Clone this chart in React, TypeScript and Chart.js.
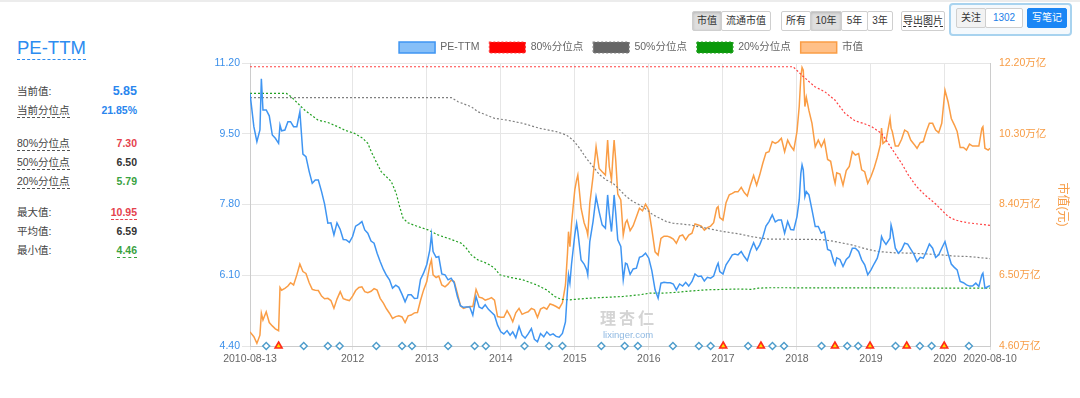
import React, { useEffect, useRef } from "react";
import { Chart, registerables } from "chart.js";

Chart.register(...registerables);

const FONT = "'Liberation Sans', 'Noto Sans CJK SC', Arial, sans-serif";

// ---------- data ----------
const dates = [
  "2010-08-13","2010-09-01","2010-09-16","2010-10-01","2010-10-08","2010-10-16","2010-11-01","2010-11-16","2010-12-01","2010-12-16",
  "2011-01-01","2011-01-08","2011-01-16","2011-02-01","2011-02-16","2011-03-01","2011-03-16","2011-04-01","2011-04-16","2011-05-01",
  "2011-05-16","2011-06-01","2011-06-16","2011-07-01","2011-07-16","2011-08-01","2011-08-16","2011-09-01","2011-09-16","2011-10-01",
  "2011-10-16","2011-11-01","2011-11-16","2011-12-01","2011-12-16","2012-01-01","2012-01-16","2012-02-01","2012-02-16","2012-03-01",
  "2012-03-16","2012-04-01","2012-04-16","2012-05-01","2012-05-16","2012-06-01","2012-06-16","2012-07-01","2012-07-16","2012-08-01",
  "2012-08-16","2012-09-01","2012-09-16","2012-10-01","2012-10-16","2012-11-01","2012-11-16","2012-12-01","2012-12-16","2013-01-01",
  "2013-01-16","2013-01-24","2013-02-01","2013-02-16","2013-03-01","2013-03-16","2013-04-01","2013-04-16","2013-05-01","2013-05-16",
  "2013-06-01","2013-06-16","2013-07-01","2013-07-16","2013-08-01","2013-08-16","2013-09-01","2013-09-16","2013-10-01","2013-10-16",
  "2013-11-01","2013-11-16","2013-12-01","2013-12-16","2014-01-01","2014-01-16","2014-02-01","2014-02-16","2014-03-01","2014-03-16",
  "2014-04-01","2014-04-16","2014-05-01","2014-05-16","2014-06-01","2014-06-16","2014-07-01","2014-07-16","2014-08-01","2014-08-16",
  "2014-09-01","2014-09-16","2014-10-01","2014-10-16","2014-11-01","2014-11-16","2014-11-26","2014-12-01","2014-12-08","2014-12-16",
  "2015-01-01","2015-01-10","2015-01-16","2015-02-01","2015-02-16","2015-03-01","2015-03-06","2015-03-16","2015-04-01","2015-04-16",
  "2015-05-01","2015-05-16","2015-06-01","2015-06-12","2015-06-20","2015-07-01","2015-07-08","2015-07-14","2015-07-22","2015-08-01",
  "2015-08-16","2015-08-28","2015-09-08","2015-09-16","2015-10-01","2015-10-16","2015-11-01","2015-11-16","2015-12-01","2015-12-16",
  "2016-01-01","2016-01-16","2016-02-01","2016-02-16","2016-03-01","2016-03-16","2016-04-01","2016-04-16","2016-05-01","2016-05-16",
  "2016-06-01","2016-06-16","2016-07-01","2016-07-16","2016-08-01","2016-08-16","2016-09-01","2016-09-16","2016-10-01","2016-10-16",
  "2016-11-01","2016-11-16","2016-12-01","2016-12-08","2016-12-16","2017-01-01","2017-01-16","2017-02-01","2017-02-16","2017-03-01",
  "2017-03-16","2017-04-01","2017-04-16","2017-05-01","2017-05-16","2017-06-01","2017-06-16","2017-07-01","2017-07-16","2017-08-01",
  "2017-08-16","2017-09-01","2017-09-16","2017-10-01","2017-10-16","2017-11-01","2017-11-16","2017-12-01","2017-12-16","2018-01-01",
  "2018-01-12","2018-01-20","2018-01-26","2018-02-01","2018-02-09","2018-02-16","2018-03-01","2018-03-16","2018-04-01","2018-04-16",
  "2018-05-01","2018-05-16","2018-06-01","2018-06-16","2018-07-01","2018-07-08","2018-07-16","2018-08-01","2018-08-16","2018-09-01",
  "2018-09-16","2018-10-01","2018-10-16","2018-11-01","2018-11-16","2018-12-01","2018-12-16","2019-01-01","2019-01-16","2019-02-01",
  "2019-02-16","2019-02-22","2019-03-01","2019-03-16","2019-04-05","2019-04-10","2019-04-16","2019-05-01","2019-05-16","2019-06-01",
  "2019-06-16","2019-07-01","2019-07-16","2019-08-01","2019-08-16","2019-09-01","2019-09-16","2019-10-01","2019-10-16","2019-11-01",
  "2019-11-16","2019-12-01","2019-12-16","2020-01-01","2020-01-16","2020-02-01","2020-02-16","2020-03-01","2020-03-16","2020-04-01",
  "2020-04-16","2020-05-01","2020-05-16","2020-06-01","2020-06-16","2020-07-01","2020-07-06","2020-07-16","2020-08-01","2020-08-10",
];

const peTTM = [
  10.47,9.67,9.31,9.59,10.82,10.07,10.07,9.93,9.47,9.39,
  9.27,9.71,9.57,9.59,9.79,9.79,9.67,9.67,10.03,9.01,
  8.95,8.59,8.31,8.39,8.39,8.11,7.81,7.35,7.36,7.07,
  7.36,7.20,6.96,6.95,6.89,7.03,7.28,7.33,7.39,7.19,
  7.11,6.92,6.87,6.63,6.43,6.24,6.10,5.99,5.79,5.86,
  5.81,5.64,5.46,5.63,5.63,5.54,5.55,6.00,6.15,6.36,
  6.71,7.07,6.67,6.53,6.55,6.13,6.11,5.99,6.03,5.92,
  5.59,5.37,5.33,5.34,5.34,5.14,5.59,5.34,5.30,5.39,
  5.28,5.21,5.14,4.90,4.74,4.69,4.77,4.66,4.74,4.60,
  4.87,4.66,4.59,4.69,4.82,4.56,4.50,4.70,4.62,4.74,
  4.66,4.69,4.63,4.61,4.70,4.98,5.75,6.11,5.91,6.37,
  7.07,7.35,7.15,6.47,6.37,6.23,6.11,6.91,7.39,7.99,
  7.63,7.31,7.23,8.03,7.59,7.15,7.59,8.03,7.59,6.95,
  6.79,5.99,6.39,6.37,6.12,6.25,6.27,6.53,6.56,6.63,
  6.51,6.21,5.75,5.55,5.91,5.93,5.92,5.92,5.89,5.75,
  5.89,5.84,5.93,5.84,5.95,6.13,6.07,6.08,5.96,6.05,
  6.03,6.08,6.31,6.39,6.19,6.13,6.35,6.47,6.59,6.61,
  6.59,6.67,6.55,6.45,6.69,6.88,6.71,6.83,7.01,7.28,
  7.39,7.55,7.38,7.43,7.43,7.11,7.39,7.20,7.19,7.51,
  7.91,8.55,8.75,8.63,7.99,8.11,8.03,7.67,7.27,7.27,
  7.11,7.15,6.72,6.69,6.43,6.35,6.52,6.48,6.31,6.48,
  6.55,6.75,6.75,6.67,6.47,6.35,6.11,6.23,6.37,6.51,
  6.79,7.03,6.95,6.84,6.99,7.31,7.19,6.75,6.63,6.71,
  6.87,6.85,6.73,6.60,6.43,6.53,6.51,6.67,6.85,6.75,
  6.53,6.59,6.75,6.91,6.63,6.37,6.29,6.23,5.95,5.92,
  5.87,5.84,5.84,5.91,5.83,6.11,6.15,5.79,5.83,5.85,
];

// 市值, 万亿元
const marketCap = [
  4.98,4.85,4.67,4.89,5.48,5.30,5.52,5.23,5.14,5.06,
  5.01,6.17,6.10,6.15,6.21,6.30,6.24,6.51,6.80,6.60,
  6.55,6.30,6.12,6.10,6.09,5.94,5.87,5.88,5.82,5.61,
  5.86,6.06,5.87,5.84,5.82,5.94,6.09,6.17,6.19,6.06,
  6.03,6.07,6.14,6.10,5.88,5.75,5.60,5.48,5.34,5.39,
  5.41,5.38,5.23,5.41,5.43,5.49,5.50,5.82,6.10,6.33,
  6.77,6.91,6.51,6.44,6.48,6.24,6.19,6.26,6.37,6.33,
  6.01,5.68,5.61,5.64,5.66,5.66,6.12,5.91,5.89,5.83,
  5.86,5.90,5.83,5.39,5.37,5.37,5.55,5.41,5.25,5.49,
  5.61,5.45,5.49,5.52,5.61,5.57,5.37,5.59,5.64,5.59,
  5.73,5.70,5.66,5.61,5.76,6.24,7.09,7.67,7.27,7.89,
  8.79,9.06,9.19,8.30,7.91,7.71,7.58,8.43,9.15,9.95,
  9.37,9.28,9.19,10.13,9.42,9.06,9.68,10.13,9.59,8.68,
  8.52,7.58,7.91,7.98,7.70,7.83,8.07,8.30,8.23,8.41,
  8.25,7.73,7.13,7.04,7.49,7.55,7.55,7.52,7.47,7.36,
  7.55,7.58,7.45,7.58,7.63,7.88,7.85,7.82,7.71,7.78,
  7.82,7.91,8.30,8.34,8.05,7.98,8.45,8.66,8.70,8.74,
  8.74,8.86,8.72,8.63,8.92,9.18,8.92,9.19,9.50,9.79,
  9.82,10.09,10.04,10.09,10.18,9.82,10.13,9.97,9.86,10.36,
  11.03,11.83,12.08,12.01,11.03,11.28,10.92,10.58,9.95,10.13,
  9.95,10.13,9.61,9.56,9.13,8.97,9.25,9.22,8.92,9.31,
  9.42,9.82,9.73,9.77,9.33,9.28,8.97,9.15,9.37,9.67,
  10.00,10.45,10.04,10.11,10.71,10.45,10.36,9.97,9.97,10.15,
  10.40,10.35,10.13,10.02,9.91,10.06,10.09,10.36,10.58,10.58,
  10.40,10.33,10.58,11.47,11.16,10.71,10.54,10.36,9.93,9.93,
  9.86,10.02,9.97,9.97,9.97,10.45,10.49,9.91,9.86,9.91,
];

const p80Dates = [
  "2010-08-13","2017-12-13","2018-01-24","2018-03-30","2018-05-18","2018-07-07","2018-08-26","2018-10-14","2018-11-24",
  "2019-01-04","2019-02-22","2019-03-27","2019-04-29","2019-06-01","2019-07-04","2019-08-14","2019-09-24","2019-11-12",
  "2019-12-15","2020-01-17","2020-02-19","2020-03-23","2020-04-25","2020-06-14","2020-08-10",
];
const p80 = [
  11.11,11.11,10.91,10.63,10.51,10.31,9.99,9.81,9.75,
  9.67,9.51,9.27,9.03,8.79,8.51,8.23,8.03,7.83,
  7.67,7.51,7.43,7.39,7.36,7.33,7.30,
];

const p50Dates = [
  "2010-08-13","2013-05-02","2013-06-04","2013-08-08","2013-09-10","2013-12-01","2014-01-29","2014-04-20","2014-07-12",
  "2014-10-02","2014-11-20","2014-12-23","2015-01-25","2015-02-27","2015-04-01","2015-05-04","2015-06-06","2015-07-09",
  "2015-08-11","2015-09-12","2015-10-15","2015-11-17","2015-12-20","2016-01-22","2016-02-24","2016-03-28","2016-04-30",
  "2016-07-21","2016-10-12","2017-01-02","2017-03-25","2017-05-22","2017-07-10","2017-08-12","2018-03-30","2018-05-18",
  "2018-07-07","2018-09-27","2018-12-18","2019-02-06","2019-04-29","2019-07-20","2019-10-11","2019-12-15","2020-02-19",
  "2020-04-25","2020-08-10",
];
const p50 = [
  10.37,10.37,10.27,10.15,10.03,9.87,9.83,9.75,9.63,
  9.55,9.47,9.35,9.15,8.91,8.71,8.51,8.39,8.31,
  8.15,7.99,7.87,7.79,7.68,7.55,7.47,7.39,7.35,
  7.31,7.23,7.15,7.09,7.03,6.99,6.97,6.96,6.95,
  6.91,6.83,6.72,6.67,6.64,6.63,6.61,6.59,6.56,
  6.55,6.50,
];

const p20Dates = [
  "2010-08-13","2011-02-08","2011-03-04","2011-04-06","2011-05-09","2011-06-11","2011-07-14","2011-09-01","2011-10-20",
  "2011-11-22","2012-01-10","2012-02-20","2012-03-16","2012-04-02","2012-04-26","2012-05-21","2012-06-15","2012-07-10",
  "2012-08-03","2012-08-20","2012-09-06","2012-09-30","2012-11-18","2013-01-07","2013-02-25","2013-05-02","2013-06-20",
  "2013-07-15","2013-08-08","2013-09-10","2013-10-13","2013-11-07","2013-12-01","2013-12-27","2014-02-14","2014-04-20",
  "2014-06-26","2014-08-14","2014-09-24","2014-10-27","2014-12-07","2015-03-15","2015-06-06","2015-08-27","2015-11-17",
  "2016-01-05","2016-03-11","2016-05-17","2016-07-21","2016-10-12","2017-01-02","2017-03-25","2017-05-22","2017-06-24",
  "2017-08-12","2020-08-10",
];
const p20 = [
  10.47,10.47,10.39,10.23,10.07,9.95,9.83,9.77,9.67,
  9.59,9.51,9.39,9.27,9.07,8.83,8.59,8.47,8.35,
  8.07,7.75,7.47,7.36,7.27,7.19,7.07,6.96,6.87,
  6.75,6.59,6.47,6.41,6.35,6.27,6.11,6.05,5.99,
  5.87,5.75,5.59,5.52,5.51,5.55,5.57,5.59,5.63,
  5.67,5.67,5.69,5.72,5.75,5.76,5.77,5.76,5.79,
  5.80,5.79,
];

// event markers along the bottom
const reportDates = [
  "2010-11-01","2011-05-05","2011-09-01","2011-10-29","2012-04-27","2012-09-01","2012-10-20","2013-04-16","2013-08-25",
  "2013-10-19","2014-04-28","2014-08-27","2014-11-01","2015-05-12","2015-09-04","2015-11-08","2016-04-29","2016-09-04",
  "2016-11-01","2017-05-05","2017-09-02","2017-10-29","2018-05-02","2018-09-06","2018-10-30","2019-05-02","2019-08-30",
  "2019-10-27","2020-04-28",
];
const dividendDates = ["2011-01-01","2017-01-02","2017-07-07","2018-07-07","2018-12-27","2019-06-26","2019-12-28"];

const xTickDates = ["2010-08-13","2012-01-01","2013-01-01","2014-01-01","2015-01-01","2016-01-01","2017-01-01","2018-01-01","2019-01-01","2020-01-01","2020-08-10"];
const xTickLabels = ["2010-08-13","2012","2013","2014","2015","2016","2017","2018","2019","2020","2020-08-10"];
const peTicks = [4.4, 6.1, 7.8, 9.5, 11.2];
const capTicks = [4.6, 6.5, 8.4, 10.3, 12.2];

const seriesNames = ["PE-TTM", "80%分位点", "50%分位点", "20%分位点", "市值"];

// ---------- helpers ----------
const toMs = (s: string): number =>
  Date.UTC(Number(s.slice(0, 4)), Number(s.slice(5, 7)) - 1, Number(s.slice(8, 10)));
const pts = (ds: string[], vs: number[]) => ds.map((d, i) => ({ x: toMs(d), y: vs[i] }));

function PEChart() {
  const ref = useRef<HTMLCanvasElement | null>(null);
  useEffect(() => {
    if (!ref.current) return;
    Chart.defaults.font.family = FONT;
    const chart = new Chart(ref.current, {
      type: "line",
      data: {
        datasets: [
          {
            label: seriesNames[0],
            data: pts(dates, peTTM),
            borderColor: "#3f95f2",
            backgroundColor: "#86bff8",
            borderWidth: 1.5,
            pointRadius: 0,
            tension: 0,
            yAxisID: "y",
          },
          {
            label: seriesNames[1],
            data: pts(p80Dates, p80),
            borderColor: "#ff4040",
            backgroundColor: "#ff0000",
            borderWidth: 1.2,
            borderDash: [2, 2],
            pointRadius: 0,
            yAxisID: "y",
          },
          {
            label: seriesNames[2],
            data: pts(p50Dates, p50),
            borderColor: "#808080",
            backgroundColor: "#666666",
            borderWidth: 1.2,
            borderDash: [2, 2],
            pointRadius: 0,
            yAxisID: "y",
          },
          {
            label: seriesNames[3],
            data: pts(p20Dates, p20),
            borderColor: "#22a022",
            backgroundColor: "#0a990a",
            borderWidth: 1.2,
            borderDash: [2, 2],
            pointRadius: 0,
            yAxisID: "y",
          },
          {
            label: seriesNames[4],
            data: pts(dates, marketCap),
            borderColor: "#fa9d45",
            backgroundColor: "#ffc088",
            borderWidth: 1.5,
            pointRadius: 0,
            tension: 0,
            yAxisID: "y1",
          },
          {
            label: "_report",
            data: reportDates.map((d) => ({ x: toMs(d), y: peTicks[0] })),
            showLine: false,
            pointStyle: "rectRot",
            pointRadius: 3.5,
            pointBorderWidth: 1.4,
            pointBorderColor: "#4d9ccb",
            pointBackgroundColor: "#ffffff",
            clip: false,
            order: -1,
            yAxisID: "y",
          } as any,
          {
            label: "_dividend",
            data: dividendDates.map((d) => ({ x: toMs(d), y: peTicks[0] })),
            showLine: false,
            pointStyle: "triangle",
            pointRadius: 4,
            pointBorderWidth: 1.6,
            pointBorderColor: "#ff2a1a",
            pointBackgroundColor: "#ffe100",
            clip: false,
            order: -1,
            yAxisID: "y",
          } as any,
        ],
      },
      options: {
        responsive: false,
        animation: false,
        devicePixelRatio: 1,
        layout: { padding: { top: 2, left: 0, right: 0, bottom: 0 } },
        plugins: {
          tooltip: { enabled: false },
          legend: {
            position: "top",
            align: "center",
            labels: {
              boxWidth: 36,
              boxHeight: 11,
              padding: 10,
              color: "#666",
              font: { size: 10.5, family: FONT },
              filter: (item: any) => !String(item.text).startsWith("_"),
            },
          },
        },
        scales: {
          x: {
            type: "linear",
            min: toMs(xTickDates[0]),
            max: toMs(xTickDates[xTickDates.length - 1]),
            afterBuildTicks: (s: any) => {
              s.ticks = xTickDates.map((d) => ({ value: toMs(d) }));
            },
            afterFit: (s: any) => {
              s.height = 34;
            },
            ticks: {
              autoSkip: false,
              maxRotation: 0,
              minRotation: 0,
              padding: 3,
              color: "#666",
              font: { size: 10.5, family: FONT },
              callback: (v: any) => {
                const i = xTickDates.findIndex((d) => toMs(d) === Number(v));
                return i >= 0 ? xTickLabels[i] : "";
              },
            },
            grid: { color: "#e6e6e6", tickLength: 4 },
            border: { color: "#cccccc" },
          },
          y: {
            position: "left",
            min: peTicks[0],
            max: peTicks[peTicks.length - 1],
            afterBuildTicks: (s: any) => {
              s.ticks = peTicks.map((v) => ({ value: v }));
            },
            afterFit: (s: any) => {
              s.width = 60;
            },
            ticks: {
              color: "#3b8fea",
              padding: 2,
              font: { size: 10.5, family: FONT },
              callback: (v: any) => Number(v).toFixed(2),
            },
            grid: { color: "#e6e6e6", tickLength: 8 },
            border: { color: "#cccccc" },
          },
          y1: {
            position: "right",
            min: capTicks[0],
            max: capTicks[capTicks.length - 1],
            afterBuildTicks: (s: any) => {
              s.ticks = capTicks.map((v) => ({ value: v }));
            },
            afterFit: (s: any) => {
              s.width = 82;
            },
            ticks: {
              color: "#f79c45",
              padding: 9,
              font: { size: 10.5, family: FONT },
              callback: (v: any) => Number(v).toFixed(2) + "万亿",
            },
            grid: { drawOnChartArea: false, drawTicks: false },
            border: { color: "#cccccc" },
            title: {
              display: true,
              text: "市值(元)",
              color: "#f79c45",
              font: { size: 12, family: FONT },
              padding: { top: 2, bottom: 4 },
            },
          },
        },
      } as any,
    });
    return () => chart.destroy();
  }, []);
  return (
    <canvas
      ref={ref}
      width={882}
      height={350}
      style={{ position: "absolute", left: 190, top: 30, width: 882, height: 350 }}
    />
  );
}

function StatsPanel() {
  const rows = [
    { label: "当前值:", value: "5.85", color: "#2a86ee", y: 92, dashLabel: false, dashValue: "", big: true },
    { label: "当前分位点", value: "21.85%", color: "#2a86ee", y: 111, dashLabel: true, dashValue: "", big: false },
    { label: "80%分位点", value: "7.30", color: "#e5424d", y: 143.5, dashLabel: true, dashValue: "", big: false },
    { label: "50%分位点", value: "6.50", color: "#333", y: 163, dashLabel: true, dashValue: "", big: false },
    { label: "20%分位点", value: "5.79", color: "#3aa23f", y: 182, dashLabel: true, dashValue: "", big: false },
    { label: "最大值:", value: "10.95", color: "#e5424d", y: 213, dashLabel: false, dashValue: "#e5424d", big: false },
    { label: "平均值:", value: "6.59", color: "#333", y: 232, dashLabel: false, dashValue: "", big: false },
    { label: "最小值:", value: "4.46", color: "#3aa23f", y: 250.5, dashLabel: false, dashValue: "#3aa23f", big: false },
  ];
  return (
    <div style={{ position: "absolute", left: 0, top: 0, width: 180, height: 300, fontFamily: FONT }}>
      <div
        style={{
          position: "absolute",
          left: 17,
          top: 37,
          fontSize: 18.5,
          lineHeight: "22px",
          color: "#2d8cf0",
          borderBottom: "1px dashed #2d8cf0",
        }}
      >
        PE-TTM
      </div>
      {rows.map((r) => (
        <div
          key={r.label}
          style={{
            position: "absolute",
            left: 17,
            top: r.y - 9.5,
            width: 120,
            height: 19,
            display: "flex",
            alignItems: "center",
            justifyContent: "space-between",
          }}
        >
          <div
            style={{
              fontSize: 10.5,
              lineHeight: "13px",
              color: "#444",
              borderBottom: r.dashLabel ? "1px dashed #555" : "1px solid transparent",
            }}
          >
            {r.label}
          </div>
          <div
            style={{
              fontSize: r.big ? 12.5 : 10.5,
              fontWeight: "bold",
              lineHeight: "13px",
              color: r.color,
              borderBottom: r.dashValue ? `1px dashed ${r.dashValue}` : "1px solid transparent",
            }}
          >
            {r.value}
          </div>
        </div>
      ))}
    </div>
  );
}

function Btn(props: { left: number; width: number; text: string; active?: boolean; top?: number; color?: string; bg?: string; border?: string; dashed?: boolean }) {
  return (
    <div
      style={{
        position: "absolute",
        left: props.left,
        top: props.top ?? 11,
        width: props.width,
        height: 20,
        boxSizing: "border-box",
        border: `1px solid ${props.border ?? "#cfcfcf"}`,
        background: props.bg ?? (props.active ? "#dedede" : "#ffffff"),
        boxShadow: props.active ? "inset 0 1px 3px rgba(0,0,0,0.18)" : "none",
        color: props.color ?? "#333",
        fontSize: 10,
        lineHeight: "18px",
        textAlign: "center",
        borderRadius: 2,
      }}
    >
      <span style={{ borderBottom: props.dashed ? "1px dashed #333" : "none" }}>{props.text}</span>
    </div>
  );
}

function Toolbar() {
  return (
    <div style={{ position: "absolute", left: 0, top: 0, width: 1080, height: 40, fontFamily: FONT }}>
      <Btn left={692} width={30} text="市值" active />
      <Btn left={721} width={50} text="流通市值" />
      <Btn left={781} width={30} text="所有" />
      <Btn left={810} width={32} text="10年" active />
      <Btn left={841} width={27} text="5年" />
      <Btn left={867} width={26} text="3年" />
      <Btn left={901} width={44} text="导出图片" dashed />
      <div
        style={{
          position: "absolute",
          left: 949,
          top: 3,
          width: 123,
          height: 33,
          boxSizing: "border-box",
          border: "2px solid #a8d3ef",
          borderRadius: 4,
          background: "#f4f9fd",
        }}
      />
      <Btn left={956} top={8} width={30} text="关注" bg="#f2f2f2" />
      <Btn left={985} top={8} width={38} text="1302" color="#1d7fe8" />
      <Btn left={1027} top={8} width={40} text="写笔记" color="#ffffff" bg="#1a86f5" border="#1a86f5" />
    </div>
  );
}

function Watermark() {
  return (
    <div style={{ position: "absolute", left: 600, top: 309, width: 70, pointerEvents: "none", fontFamily: FONT }}>
      <div
        style={{
          fontSize: 16,
          fontWeight: "bold",
          color: "#d4d4d4",
          letterSpacing: 3,
          lineHeight: "20px",
          textShadow: "1px 1px 0 #ffffff",
        }}
      >
        理杏仁
      </div>
      <div style={{ fontSize: 9.5, color: "#8fb9e2", lineHeight: "11px", marginLeft: 3 }}>lixinger.com</div>
    </div>
  );
}

export default function App() {
  return (
    <div style={{ position: "absolute", left: 0, top: 0, width: 1080, height: 398, background: "#ffffff", overflow: "hidden" }}>
      <div style={{ position: "absolute", left: 0, top: 0, width: 1080, height: 2, background: "#ececec" }} />
      <StatsPanel />
      <Toolbar />
      <PEChart />
      <Watermark />
    </div>
  );
}
